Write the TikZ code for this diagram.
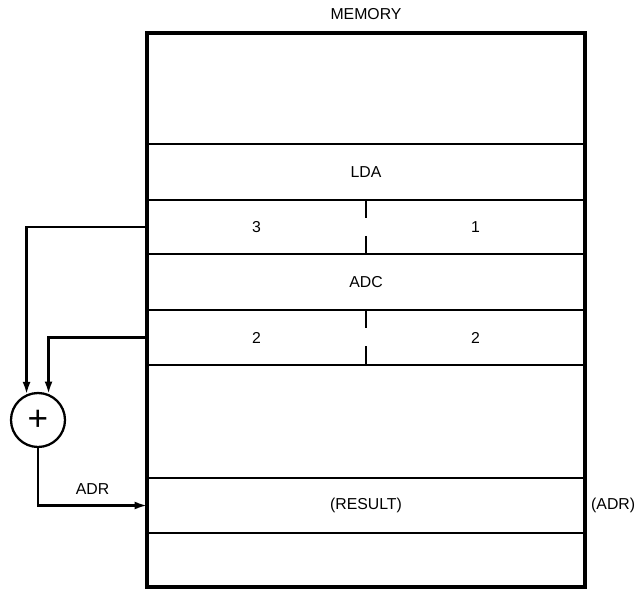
\documentclass[tikz,border=0pt]{standalone}
\usepackage{fontspec}
\setmainfont{Liberation Sans}
\usetikzlibrary{arrows.meta, calc}

\begin{document}
\begin{tikzpicture}[
    memrow/.style={draw, line width=1.2pt, anchor=north, minimum width=8.76cm, inner sep=0pt, outer sep=0pt, font=\fontsize{9}{11}\selectfont},
    lbl/.style={font=\fontsize{9}{11}\selectfont},
    wire/.style={line width=1.3pt, -{Latex[length=7pt, width=4.5pt]}},
    cut/.style={line width=1.2pt, dash pattern=on 0.36cm off 0.36cm},
    adder/.style={draw, circle, line width=1.3pt, minimum size=1.08cm, inner sep=0pt, font=\fontsize{20}{20}\selectfont}
]
\useasboundingbox (0,0) rectangle (12.76,11.8);

% Celdas de memoria
\foreach \n/\t/\h/\txt in {r1/11.14/2.22/{}, r2/8.92/1.12/LDA, r3/7.80/1.08/{}, r4/6.72/1.12/ADC, r5/5.60/1.10/{}, r6/4.50/2.26/{}, r7/2.24/1.10/{(RESULT)}, r8/1.14/1.08/{}} {
    \node[memrow, minimum height=\h cm] (\n) at (7.32, \t) {\txt};
}
\draw[line width=2pt] (r1.north west) rectangle (r8.south east);
\node[lbl, above=4pt] (mem) at (r1.north) {MEMORY};

% Operandos
\draw[cut] (r3.north) -- (r3.south);
\draw[cut] (r5.north) -- (r5.south);
\node[lbl] (a1) at ($(r3.west)!0.5!(r3.center)$) {3};
\node[lbl] (b1) at ($(r3.center)!0.5!(r3.east)$) {1};
\node[lbl] (a2) at ($(r5.west)!0.5!(r5.center)$) {2};
\node[lbl] (b2) at ($(r5.center)!0.5!(r5.east)$) {2};

% Sumador
\node[adder] (sum) at (0.76, 3.4) {+};
\draw[wire] (r3.west) -| (sum.114);
\draw[wire] (r5.west) -| (sum.68);
\draw[wire] (sum.south) |- (r7.west) node[lbl, above=2pt, pos=0.75] (adr) {ADR};

\node[lbl, anchor=west] (adrout) at (r7.east) {(ADR)};

\end{tikzpicture}
\end{document}
